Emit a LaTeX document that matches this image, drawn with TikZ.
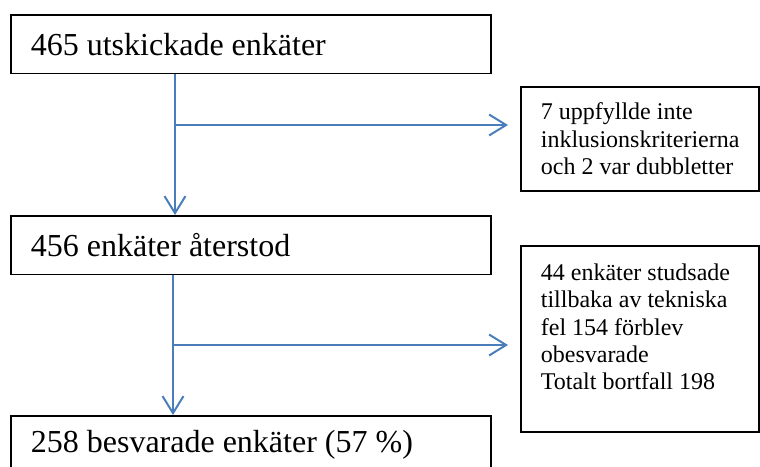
\documentclass[tikz,border=0pt]{standalone}
\usepackage{fontspec}
\setmainfont{Liberation Serif}
\usetikzlibrary{arrows.meta}
\definecolor{flow}{HTML}{4A7EBB}
\tikzset{
  box/.style={draw=black, line width=1.7pt, anchor=north west, align=flush left, inner ysep=0pt},
  bigbox/.style={box, inner xsep=20pt, text width=440pt, minimum height=58.5pt, font=\fontsize{32}{38}\selectfont},
  sidebox/.style={box, inner xsep=20pt, text width=198pt, font=\fontsize{24}{27.3}\selectfont},
  arr/.style={draw=flow, line width=2pt, -{Straight Barb[length=17pt,width=21pt]}}
}

\begin{document}
\begin{tikzpicture}[x=1pt, y=-1pt]
\clip (0,0) rectangle (760,466);
% main column
\node[bigbox] (sent) at (10,14) {465 utskickade enkäter};
\node[bigbox] (rest) at (10,215) {456 enkäter återstod};
\node[bigbox] (done) at (10,415) {258 besvarade enkäter (57 \%)};

% drop-outs
\node[sidebox, minimum height=104pt] (excl1) at (520,86)
  {7 uppfyllde inte\\inklusionskriterierna\\och 2 var dubbletter};
\node[sidebox, minimum height=186pt, inner ysep=18pt] (excl2) at (520,245)
  {\parbox[t][150pt][t]{198pt}{\raggedright
   44 enkäter studsade\\tillbaka av tekniska\\fel 154 förblev\\obesvarade\\Totalt bortfall 198}};

% forks
\coordinate (fork1) at (175,125);
\coordinate (fork2) at (173,345);

% arrows
\draw[arr] (sent.south -| fork1) -- (rest.north -| fork1);
\draw[arr, shorten >=12pt] (fork1) -- (fork1 -| excl1.west);
\draw[arr] (rest.south -| fork2) -- (done.north -| fork2);
\draw[arr, shorten >=12pt] (fork2) -- (fork2 -| excl2.west);
\end{tikzpicture}
\end{document}
